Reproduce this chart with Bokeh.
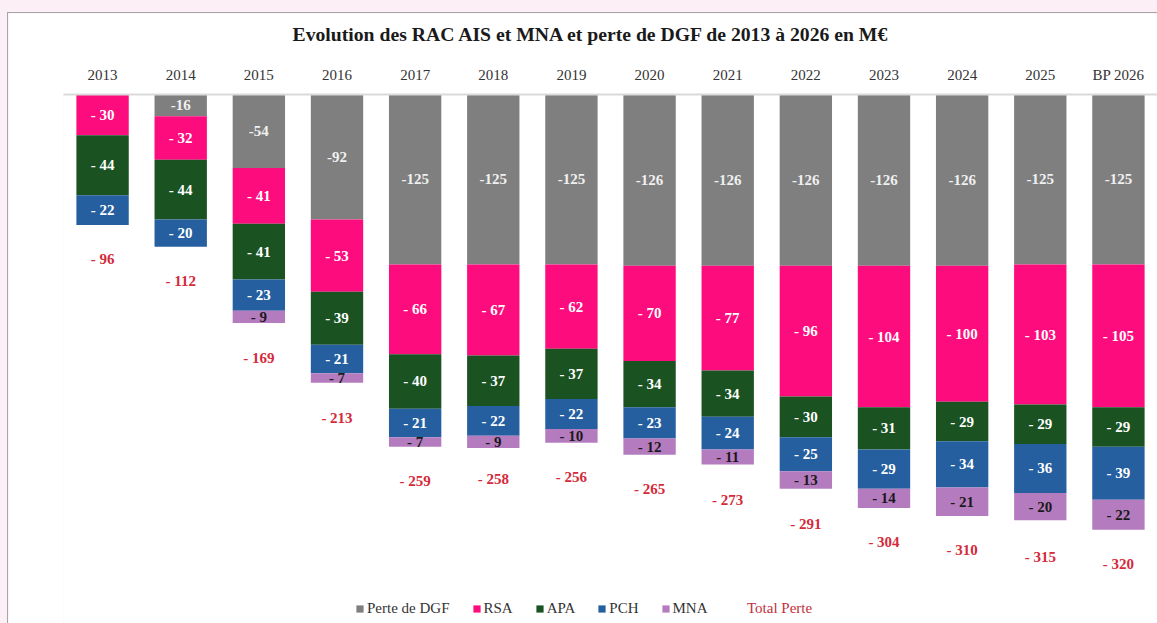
from bokeh.plotting import figure
from bokeh.models import ColumnDataSource, FactorRange, Range1d, Legend, LegendItem
from bokeh.core.properties import value
from bokeh.embed import file_html
from bokeh.resources import INLINE

# ---- data (M€, magnitudes of losses) ----
years = ["2013", "2014", "2015", "2016", "2017", "2018", "2019", "2020",
         "2021", "2022", "2023", "2024", "2025", "BP 2026"]
dgf = [0, 16, 54, 92, 125, 125, 125, 126, 126, 126, 126, 126, 125, 125]
rsa = [30, 32, 41, 53, 66, 67, 62, 70, 77, 96, 104, 100, 103, 105]
apa = [44, 44, 41, 39, 40, 37, 37, 34, 34, 30, 31, 29, 29, 29]
pch = [22, 20, 23, 21, 21, 22, 22, 23, 24, 25, 29, 34, 36, 39]
mna = [0, 0, 9, 7, 7, 9, 10, 12, 11, 13, 14, 21, 20, 22]
total = [96, 112, 169, 213, 259, 258, 256, 265, 273, 291, 304, 310, 315, 320]

series_names = ["Perte de DGF", "RSA", "APA", "PCH", "MNA"]
series_vals = [dgf, rsa, apa, pch, mna]
colors = ["#7f7f7f", "#fd0c7d", "#1a5222", "#265fa0", "#b57bbf"]
label_colors = ["#f0f0f0", "white", "white", "white", "#1a1a1a"]
keys = ["dgf", "rsa", "apa", "pch", "mna"]

FONT = "Liberation Serif"
TITLE = "Evolution des RAC AIS et MNA et perte de DGF de 2013 à 2026 en M€"

data = {"year": years}
for k, vals in zip(keys, series_vals):
    data[k] = [-v for v in vals]
src = ColumnDataSource(data)

p = figure(x_range=FactorRange(factors=years), y_range=Range1d(-389, 0),
           width=1149, height=610, output_backend="svg", toolbar_location=None,
           x_axis_location="above", y_axis_location=None,
           min_border_left=55, min_border_right=0, min_border_top=81,
           min_border_bottom=0, margin=(13, 0, 0, 8),
           styles={"outline": "1px solid #a6a6a6"})
p.outline_line_color = None
p.xgrid.visible = False
p.ygrid.visible = False
p.background_fill_color = "white"
p.border_fill_color = "white"

renderers = p.vbar_stack(keys, x="year", width=0.67, color=colors, source=src,
                         line_color=None)

# segment labels
for i, (k, vals) in enumerate(zip(keys, series_vals)):
    xs, ys, txt = [], [], []
    for j, y in enumerate(years):
        v = vals[j]
        if v == 0:
            continue
        before = sum(series_vals[m][j] for m in range(i))
        xs.append(y)
        ys.append(-(before + v / 2))
        txt.append(f"-{v}" if k == "dgf" else f"- {v}")
    s = ColumnDataSource(dict(x=xs, y=ys, t=txt))
    p.text(x="x", y="y", text="t", source=s, text_align="center",
           text_baseline="middle", text_font=value(FONT),
           text_font_size="15px", text_font_style="bold",
           text_color=label_colors[i])

# totals
tot_src = ColumnDataSource(dict(x=years, y=[-(t + 25) for t in total],
                                t=[f"- {t}" for t in total]))
p.text(x="x", y="y", text="t", source=tot_src, text_align="center",
       text_baseline="middle", text_font=value(FONT), text_font_size="15px",
       text_font_style="bold", text_color="#d42a3a")
tot_r = p.scatter(x="x", y="y", source=tot_src, size=0, fill_alpha=0, line_alpha=0)

# axis
ax = p.xaxis[0]
ax.major_tick_line_color = None
ax.minor_tick_line_color = None
ax.axis_line_color = "#d9d9d9"
ax.axis_line_width = 2
ax.major_label_text_font = FONT
ax.major_label_text_font_size = "15px"
ax.major_label_text_color = "#333333"
ax.major_label_standoff = 6
ax.axis_label = " "
ax.axis_label_text_font_size = "1px"
ax.axis_label_standoff = 4

# title
p.title.text = TITLE
p.title.text_font = FONT
p.title.text_font_size = "19.7px"
p.title.text_font_style = "bold"
p.title.text_color = "#1a1a1a"
p.title.align = "left"
p.title.vertical_align = "top"
p.title.offset = 229
p.title.standoff = 17

# legends
leg1 = Legend(items=[LegendItem(label=n, renderers=[r])
                     for n, r in zip(series_names, renderers)],
              orientation="horizontal", location=(292, 6),
              glyph_width=9, glyph_height=9, label_standoff=3, spacing=22,
              label_text_font=FONT, label_text_font_size="15px",
              label_text_color="#333333", padding=0, margin=0,
              background_fill_alpha=0, border_line_alpha=0)
leg2 = Legend(items=[LegendItem(label="Total Perte", renderers=[tot_r])],
              orientation="horizontal", location=(680, 6),
              glyph_width=1, glyph_height=9, label_standoff=3,
              label_text_font=FONT, label_text_font_size="15px",
              label_text_color="#c0303c", padding=0, margin=0,
              background_fill_alpha=0, border_line_alpha=0)
p.add_layout(leg1)
p.add_layout(leg2)

html = file_html(p, INLINE)
html = html.replace("</head>", "<style>body{background-color:#fcf0f6;}</style></head>", 1)
open("out.html", "w").write(html)
